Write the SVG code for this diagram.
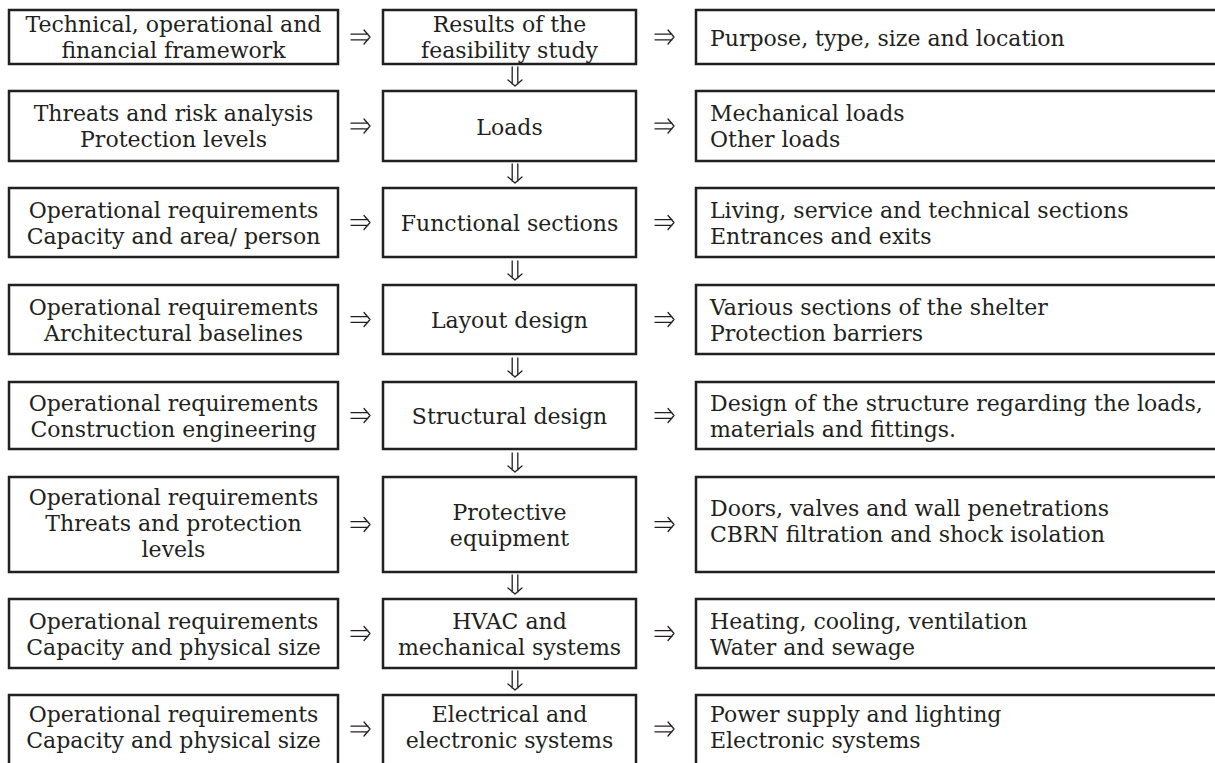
<svg xmlns="http://www.w3.org/2000/svg" width="1215" height="763" viewBox="0 0 1215 763">
<style>
.box{fill:#fff;stroke:#231f20;stroke-width:2.5}
.t{font-family:"DejaVu Serif","Liberation Serif",serif;font-size:22px;fill:#231f20}
.c{text-anchor:middle}
.a{fill:none;stroke:#231f20;stroke-width:1.3;stroke-linecap:round;stroke-linejoin:round}
</style>
<defs>
<path id="ra" d="M-9,-2.8 H8 M-9,2.8 H8 M4,-7 L10,0 L4,7"/>
<path id="da" d="M-2.8,-9 V8 M2.8,-9 V8 M-7,4 L0,10 L7,4"/>
</defs>
<rect width="1215" height="763" fill="#fff"/>
<g id="connectors" class="a">
<use href="#ra" x="360" y="37"/><use href="#ra" x="664" y="37"/>
<use href="#ra" x="360" y="126"/><use href="#ra" x="664" y="126"/>
<use href="#ra" x="360" y="222.5"/><use href="#ra" x="664" y="222.5"/>
<use href="#ra" x="360" y="319.5"/><use href="#ra" x="664" y="319.5"/>
<use href="#ra" x="360" y="415.5"/><use href="#ra" x="664" y="415.5"/>
<use href="#ra" x="360" y="524.5"/><use href="#ra" x="664" y="524.5"/>
<use href="#ra" x="360" y="633.5"/><use href="#ra" x="664" y="633.5"/>
<use href="#ra" x="360" y="729"/><use href="#ra" x="664" y="729"/>
<use href="#da" x="515" y="76"/>
<use href="#da" x="515" y="173"/>
<use href="#da" x="515" y="270"/>
<use href="#da" x="515" y="367"/>
<use href="#da" x="515" y="462"/>
<use href="#da" x="515" y="584"/>
<use href="#da" x="515" y="680"/>
</g>
<g id="r1">
<g id="n1l"><rect class="box" x="9" y="10" width="329" height="54"/><text class="t c" x="173.5" y="32">Technical, operational and</text><text class="t c" x="173.5" y="58">financial framework</text></g>
<g id="n1m"><rect class="box" x="383" y="10" width="253" height="54"/><text class="t c" x="509.5" y="32">Results of the</text><text class="t c" x="509.5" y="58">feasibility study</text></g>
<g id="n1r"><rect class="box" x="696" y="10" width="540" height="54"/><text class="t" x="710" y="45.5">Purpose, type, size and location</text></g>
</g>
<g id="r2">
<g id="n2l"><rect class="box" x="9" y="91" width="329" height="70"/><text class="t c" x="173.5" y="121">Threats and risk analysis</text><text class="t c" x="173.5" y="147">Protection levels</text></g>
<g id="n2m"><rect class="box" x="383" y="91" width="253" height="70"/><text class="t c" x="509.5" y="135">Loads</text></g>
<g id="n2r"><rect class="box" x="696" y="91" width="540" height="70"/><text class="t" x="710" y="121">Mechanical loads</text><text class="t" x="710" y="147">Other loads</text></g>
</g>
<g id="r3">
<g id="n3l"><rect class="box" x="9" y="188" width="329" height="69"/><text class="t c" x="173.5" y="217.5">Operational requirements</text><text class="t c" x="173.5" y="243.5">Capacity and area/ person</text></g>
<g id="n3m"><rect class="box" x="383" y="188" width="253" height="69"/><text class="t c" x="509.5" y="231">Functional sections</text></g>
<g id="n3r"><rect class="box" x="696" y="188" width="540" height="69"/><text class="t" x="710" y="217.5">Living, service and technical sections</text><text class="t" x="710" y="243.5">Entrances and exits</text></g>
</g>
<g id="r4">
<g id="n4l"><rect class="box" x="9" y="285" width="329" height="69"/><text class="t c" x="173.5" y="314.5">Operational requirements</text><text class="t c" x="173.5" y="340.5">Architectural baselines</text></g>
<g id="n4m"><rect class="box" x="383" y="285" width="253" height="69"/><text class="t c" x="509.5" y="328">Layout design</text></g>
<g id="n4r"><rect class="box" x="696" y="285" width="540" height="69"/><text class="t" x="710" y="314.5">Various sections of the shelter</text><text class="t" x="710" y="340.5">Protection barriers</text></g>
</g>
<g id="r5">
<g id="n5l"><rect class="box" x="9" y="382" width="329" height="67"/><text class="t c" x="173.5" y="410.5">Operational requirements</text><text class="t c" x="173.5" y="436.5">Construction engineering</text></g>
<g id="n5m"><rect class="box" x="383" y="382" width="253" height="67"/><text class="t c" x="509.5" y="424">Structural design</text></g>
<g id="n5r"><rect class="box" x="696" y="382" width="540" height="67"/><text class="t" x="710" y="410.5">Design of the structure regarding the loads,</text><text class="t" x="710" y="436.5">materials and fittings.</text></g>
</g>
<g id="r6">
<g id="n6l"><rect class="box" x="9" y="477" width="329" height="95"/><text class="t c" x="173.5" y="504.5">Operational requirements</text><text class="t c" x="173.5" y="530.5">Threats and protection</text><text class="t c" x="173.5" y="556.5">levels</text></g>
<g id="n6m"><rect class="box" x="383" y="477" width="253" height="95"/><text class="t c" x="509.5" y="519.5">Protective</text><text class="t c" x="509.5" y="545.5">equipment</text></g>
<g id="n6r"><rect class="box" x="696" y="477" width="540" height="95"/><text class="t" x="710" y="516">Doors, valves and wall penetrations</text><text class="t" x="710" y="542">CBRN filtration and shock isolation</text></g>
</g>
<g id="r7">
<g id="n7l"><rect class="box" x="9" y="599" width="329" height="69"/><text class="t c" x="173.5" y="628.5">Operational requirements</text><text class="t c" x="173.5" y="654.5">Capacity and physical size</text></g>
<g id="n7m"><rect class="box" x="383" y="599" width="253" height="69"/><text class="t c" x="509.5" y="628.5">HVAC and</text><text class="t c" x="509.5" y="654.5">mechanical systems</text></g>
<g id="n7r"><rect class="box" x="696" y="599" width="540" height="69"/><text class="t" x="710" y="628.5">Heating, cooling, ventilation</text><text class="t" x="710" y="654.5">Water and sewage</text></g>
</g>
<g id="r8">
<g id="n8l"><rect class="box" x="9" y="695" width="329" height="90"/><text class="t c" x="173.5" y="722">Operational requirements</text><text class="t c" x="173.5" y="748">Capacity and physical size</text></g>
<g id="n8m"><rect class="box" x="383" y="695" width="253" height="90"/><text class="t c" x="509.5" y="722">Electrical and</text><text class="t c" x="509.5" y="748">electronic systems</text></g>
<g id="n8r"><rect class="box" x="696" y="695" width="540" height="90"/><text class="t" x="710" y="722">Power supply and lighting</text><text class="t" x="710" y="748">Electronic systems</text></g>
</g>
</svg>
